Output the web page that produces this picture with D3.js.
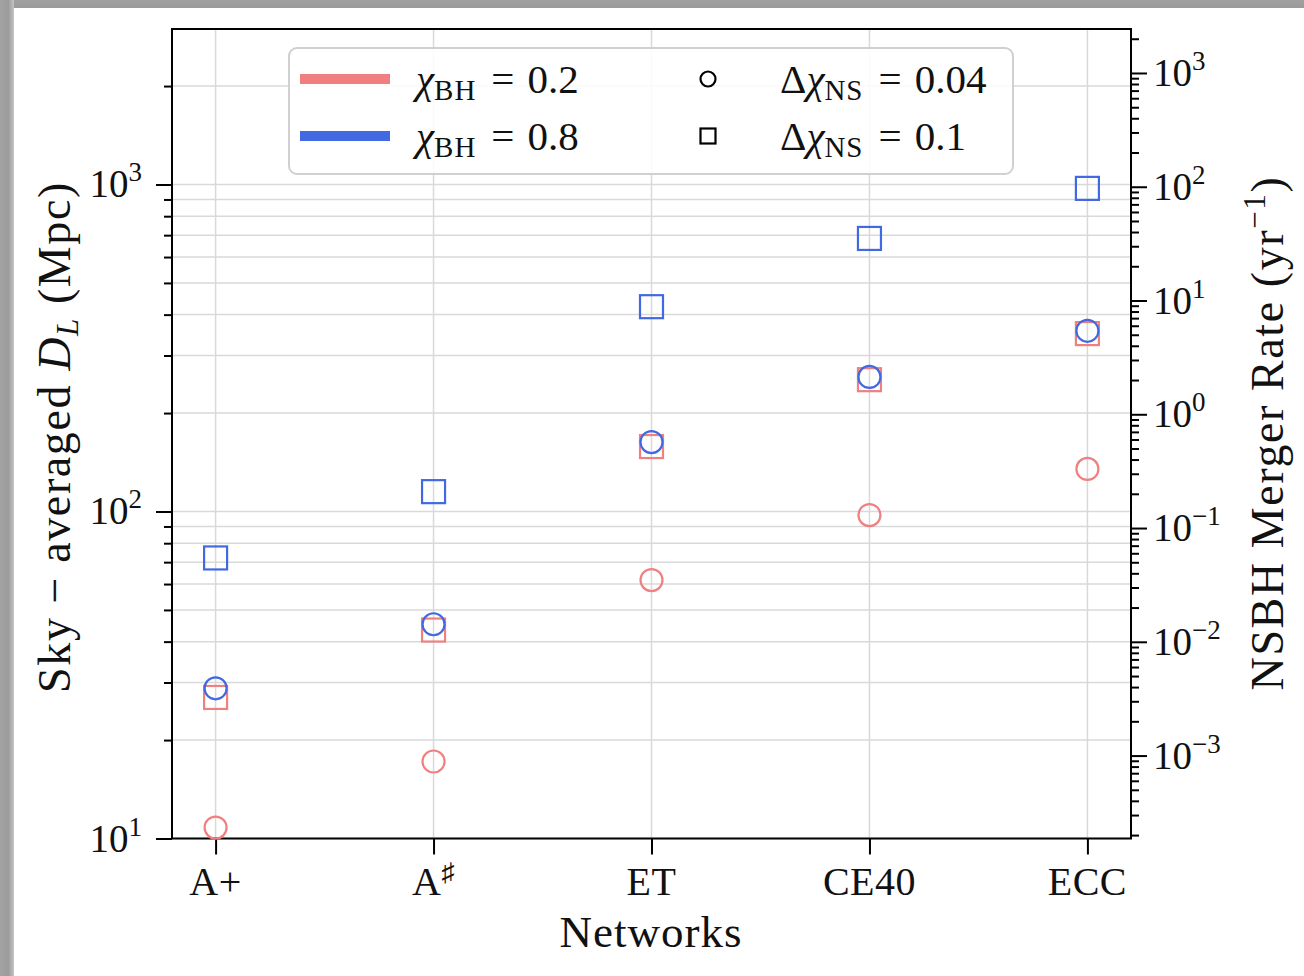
<!DOCTYPE html>
<html>
<head>
<meta charset="utf-8">
<script src="https://cdn.jsdelivr.net/npm/d3@7"></script>
<style>
html,body{margin:0;padding:0;background:#fff;}
svg{display:block;}
text{font-family:"Liberation Serif","DejaVu Serif",serif;fill:#111;}
</style>
</head>
<body>
<svg id="chart" width="1304" height="976"></svg>
<script>
// ---- data ----
const networks = ["A+", "A♯", "ET", "CE40", "ECC"];
const red_dchi004 = [10.8, 17.2, 61.7, 97.5, 135];   // chi_BH=0.2, Δχ_NS=0.04 (circles)
const red_dchi01  = [27.0, 43.4, 158, 253, 350];     // chi_BH=0.2, Δχ_NS=0.1 (squares)
const blue_dchi004 = [28.8, 45.2, 163, 258, 357];    // chi_BH=0.8, Δχ_NS=0.04 (circles)
const blue_dchi01  = [72.1, 115, 423, 684, 973];     // chi_BH=0.8, Δχ_NS=0.1 (squares)
const leftMajorTicks = [10, 100, 1000];
const rightMajorTicks = [1e-3, 1e-2, 1e-1, 1, 10, 100, 1000];
const leftTickExp = ["1", "2", "3"];
const rightTickExp = ["−3", "−2", "−1", "0", "1", "2", "3"];

const RED = "#F08080", BLUE = "#4169E1";

const svg = d3.select("#chart");

// page frame (gray border with soft shadow)
const defs = svg.append("defs");
const gL = defs.append("linearGradient").attr("id","gl").attr("x1","0").attr("x2","1").attr("y1","0").attr("y2","0");
gL.append("stop").attr("offset","0").attr("stop-color","#a3a3a3");
gL.append("stop").attr("offset","0.6").attr("stop-color","#9c9c9c");
gL.append("stop").attr("offset","1").attr("stop-color","#c4c4c4");
const gT = defs.append("linearGradient").attr("id","gt").attr("x1","0").attr("x2","0").attr("y1","0").attr("y2","1");
gT.append("stop").attr("offset","0").attr("stop-color","#a0a0a0");
gT.append("stop").attr("offset","1").attr("stop-color","#9a9a9a");
svg.append("rect").attr("x",0).attr("y",0).attr("width",1304).attr("height",8).attr("fill","url(#gt)");
svg.append("rect").attr("x",0).attr("y",0).attr("width",14).attr("height",976).attr("fill","url(#gl)");

const L = 172, R = 1131, T = 29, B = 838.5;

const x = d3.scaleLinear().domain([-0.2, 4.2]).range([L, R]);
const yL = d3.scaleLog().domain([10, 2989]).range([B, T]);
const yR = d3.scaleLog().domain([Math.pow(10,-3.729), Math.pow(10,3.3866)]).range([B, T]);

// minor ticks
function minors(scale){
  const [a,b] = scale.domain();
  const out = [];
  for (let e = Math.floor(Math.log10(a)); e <= Math.ceil(Math.log10(b)); e++){
    for (let k = 2; k <= 9; k++){
      const v = k*Math.pow(10,e);
      if (v >= a && v <= b) out.push(v);
    }
  }
  return out;
}
const leftMinor = minors(yL);
const rightMinor = minors(yR);

// grid
const grid = svg.append("g");
grid.selectAll("line.h").data(leftMajorTicks.concat(leftMinor)).join("line")
  .attr("x1", L).attr("x2", R).attr("y1", d=>yL(d)).attr("y2", d=>yL(d))
  .attr("stroke","#d9d9d9").attr("stroke-width",1.5);
grid.selectAll("line.v").data(networks).join("line")
  .attr("x1",(d,i)=>x(i)).attr("x2",(d,i)=>x(i)).attr("y1",T).attr("y2",B)
  .attr("stroke","#d9d9d9").attr("stroke-width",1.5);

// axes
function styleAxis(g){
  g.select(".domain").remove();
  g.selectAll("line").attr("stroke","#000").attr("stroke-width",2);
  g.selectAll("text").remove();
}
svg.append("g").attr("transform",`translate(${L},0)`)
  .call(d3.axisLeft(yL).tickValues(leftMajorTicks).tickSize(16)).call(styleAxis);
svg.append("g").attr("transform",`translate(${L},0)`)
  .call(d3.axisLeft(yL).tickValues(leftMinor).tickSize(8)).call(styleAxis);
svg.append("g").attr("transform",`translate(${R},0)`)
  .call(d3.axisRight(yR).tickValues(rightMajorTicks).tickSize(16)).call(styleAxis);
svg.append("g").attr("transform",`translate(${R},0)`)
  .call(d3.axisRight(yR).tickValues(rightMinor).tickSize(8)).call(styleAxis);
svg.append("g").attr("transform",`translate(0,${B})`)
  .call(d3.axisBottom(x).tickValues(d3.range(networks.length)).tickSize(16)).call(styleAxis);

// frame
svg.append("rect").attr("x",L).attr("y",T).attr("width",R-L).attr("height",B-T)
  .attr("fill","none").attr("stroke","#000").attr("stroke-width",2);

// tick labels
const FS = 39;
leftMajorTicks.forEach((v,i)=>{
  const t = svg.append("text").attr("x",142).attr("y",yL(v)+13).attr("text-anchor","end").attr("font-size",FS);
  t.append("tspan").text("10");
  t.append("tspan").attr("dy",-16).attr("font-size",27).text(leftTickExp[i]);
});
rightMajorTicks.forEach((v,i)=>{
  const t = svg.append("text").attr("x",1153).attr("y",yR(v)+13).attr("text-anchor","start").attr("font-size",FS);
  t.append("tspan").text("10");
  t.append("tspan").attr("dy",-16).attr("font-size",27).text(rightTickExp[i]);
});
networks.forEach((n,i)=>{
  const t = svg.append("text").attr("x",x(i)).attr("y",895).attr("text-anchor","middle").attr("font-size",40).attr("letter-spacing",0.5);
  if (n === "A♯"){
    t.append("tspan").text("A");
    t.append("tspan").attr("dy",-14).attr("font-size",26).text("♯");
  } else t.text(n);
});

// axis labels
svg.append("text").attr("x",651).attr("y",947).attr("text-anchor","middle").attr("font-size",45).attr("letter-spacing",1).text("Networks");
{
  const t = svg.append("text").attr("transform","translate(70,437) rotate(-90)").attr("text-anchor","middle").attr("font-size",46).attr("letter-spacing",1.6);
  t.append("tspan").text("Sky − averaged ");
  t.append("tspan").attr("font-style","italic").text("D");
  t.append("tspan").attr("font-style","italic").attr("font-size",31).attr("dy",8).text("L");
  t.append("tspan").attr("dy",-8).text(" (Mpc)");
}
{
  const t = svg.append("text").attr("transform","translate(1283,433) rotate(-90)").attr("text-anchor","middle").attr("font-size",46).attr("letter-spacing",1.6);
  t.append("tspan").text("NSBH Merger Rate (yr");
  t.append("tspan").attr("dy",-18).attr("font-size",31).text("−1");
  t.append("tspan").attr("dy",18).text(")");
}

// markers
const series = [
  {vals: red_dchi004, color: RED, shape: "circle"},
  {vals: red_dchi01, color: RED, shape: "square"},
  {vals: blue_dchi004, color: BLUE, shape: "circle"},
  {vals: blue_dchi01, color: BLUE, shape: "square"}
];
const marks = svg.append("g");
series.forEach(s=>{
  if (s.shape === "circle"){
    marks.append("g").selectAll("circle").data(s.vals).join("circle")
      .attr("cx",(d,i)=>x(i)).attr("cy",d=>yL(d)).attr("r",11)
      .attr("fill","none").attr("stroke",s.color).attr("stroke-width",2.2);
  } else {
    marks.append("g").selectAll("rect").data(s.vals).join("rect")
      .attr("x",(d,i)=>x(i)-11.5).attr("y",d=>yL(d)-11.5).attr("width",23).attr("height",23)
      .attr("fill","none").attr("stroke",s.color).attr("stroke-width",2.2);
  }
});

// legend
const lg = svg.append("g");
lg.append("rect").attr("x",289).attr("y",48).attr("width",724).attr("height",126).attr("rx",8)
  .attr("fill","#fff").attr("fill-opacity",0.85).attr("stroke","#d0d0d0").attr("stroke-width",2);
const legColor = [{c:RED, v:"0.2", y:79},{c:BLUE, v:"0.8", y:136}];
legColor.forEach(d=>{
  lg.append("line").attr("x1",300).attr("x2",390).attr("y1",d.y).attr("y2",d.y).attr("stroke",d.c).attr("stroke-width",10);
  const t = lg.append("text").attr("x",416).attr("y",d.y+14).attr("font-size",41);
  t.append("tspan").attr("font-style","italic").text("χ");
  t.append("tspan").attr("font-size",29).attr("dy",7).attr("letter-spacing",1).text("BH");
  t.append("tspan").attr("dy",-7).attr("dx",15).text("=");
  t.append("tspan").attr("dx",13).text(d.v);
});
const legShape = [{s:"circle", v:"0.04", y:79},{s:"square", v:"0.1", y:136}];
legShape.forEach(d=>{
  if (d.s === "circle") lg.append("circle").attr("cx",708).attr("cy",d.y).attr("r",7.5).attr("fill","none").attr("stroke","#000").attr("stroke-width",2.2);
  else lg.append("rect").attr("x",700.5).attr("y",d.y-7.5).attr("width",15).attr("height",15).attr("fill","none").attr("stroke","#000").attr("stroke-width",2.2);
  const t = lg.append("text").attr("x",780).attr("y",d.y+14).attr("font-size",41);
  t.append("tspan").text("Δ");
  t.append("tspan").attr("font-style","italic").text("χ");
  t.append("tspan").attr("font-size",29).attr("dy",7).attr("letter-spacing",1).text("NS");
  t.append("tspan").attr("dy",-7).attr("dx",15).text("=");
  t.append("tspan").attr("dx",13).text(d.v);
});
</script>
</body>
</html>
